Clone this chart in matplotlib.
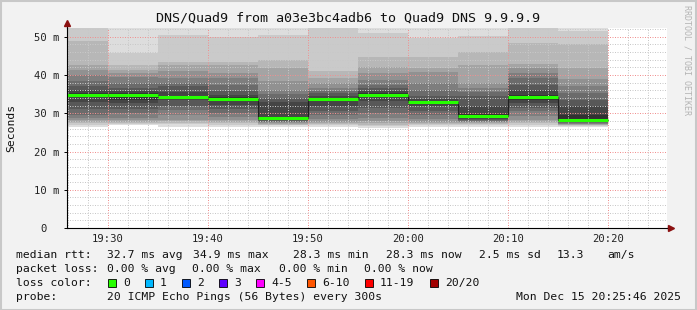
import matplotlib
matplotlib.use('Agg')
import matplotlib.pyplot as plt
from matplotlib.ticker import MultipleLocator, FixedLocator, FixedFormatter
from matplotlib.patches import Rectangle

plt.rcParams['font.family'] = ['DejaVu Sans Mono']

W, H = 697, 310

# each bin is 5 minutes wide, x is minutes after 19:00
bin_end = [30, 35, 40, 45, 50, 55, 60, 65, 70, 75, 80]
median_ms = [34.8, 34.7, 34.3, 33.8, 28.7, 33.6, 34.9, 32.9, 29.4, 34.2, 28.3]

# 20 sorted ping times (ms) per bin
pings_ms = [
    [26.5, 27.0, 27.4, 27.8, 28.3, 28.7, 29.5, 31.0, 33.0, 34.5,
     35.2, 36.0, 37.0, 38.5, 40.0, 41.4, 42.5, 48.8, 53.0, 55.0],
    [26.8, 27.1, 27.4, 27.8, 28.2, 28.7, 30.0, 31.0, 32.6, 33.5,
     35.2, 35.8, 36.5, 37.9, 39.5, 40.5, 41.4, 42.7, 45.7, 55.0],
    [26.5, 27.2, 27.5, 27.9, 28.3, 29.5, 30.9, 32.0, 33.5, 34.0,
     34.6, 35.5, 37.0, 38.0, 39.2, 41.0, 42.7, 43.5, 50.5, 55.0],
    [26.5, 27.0, 27.4, 27.8, 28.3, 29.0, 30.0, 31.0, 32.2, 33.5,
     34.2, 34.8, 35.7, 37.5, 39.2, 40.5, 42.7, 43.5, 50.0, 55.0],
    [26.5, 26.8, 27.0, 27.2, 27.4, 27.6, 27.8, 28.0, 28.2, 28.5,
     29.1, 33.0, 34.0, 35.0, 36.1, 38.5, 41.8, 44.0, 50.5, 55.0],
    [26.5, 26.9, 27.2, 27.5, 27.8, 28.5, 29.5, 30.5, 31.8, 33.3,
     33.9, 34.4, 35.3, 35.8, 36.6, 38.0, 39.2, 41.0, 54.0, 56.0],
    [26.1, 26.6, 27.0, 27.4, 28.0, 28.7, 30.0, 31.5, 33.1, 34.5,
     35.3, 35.8, 36.5, 37.5, 38.7, 40.5, 42.2, 44.8, 51.0, 55.0],
    [26.5, 26.8, 27.1, 27.4, 27.8, 28.5, 29.5, 30.5, 31.8, 32.5,
     33.2, 33.8, 34.4, 36.0, 38.0, 40.9, 41.8, 44.8, 49.7, 55.0],
    [26.5, 26.8, 27.1, 27.4, 27.6, 27.8, 28.0, 28.3, 28.6, 29.0,
     29.8, 31.8, 34.4, 35.5, 36.6, 38.0, 42.7, 46.0, 50.1, 55.0],
    [26.5, 27.0, 27.4, 27.8, 28.3, 29.4, 30.5, 31.5, 32.6, 33.5,
     34.8, 36.0, 37.5, 39.2, 40.5, 41.8, 43.0, 48.3, 53.0, 55.0],
    [26.5, 26.7, 26.9, 27.0, 27.2, 27.3, 27.5, 27.7, 27.9, 28.1,
     29.5, 31.8, 33.5, 35.3, 37.0, 39.0, 41.8, 48.0, 51.4, 55.0],
]

loss_labels = ['0', '1', '2', '3', '4-5', '6-10', '11-19', '20/20']
loss_colors = ['#26ff00', '#00b8ff', '#0059ff', '#5e00ff', '#ff00ff',
               '#ff5500', '#ff0000', '#a10000']
loss_label_x = [123, 160, 197, 234, 271, 322, 380, 445]


def px(x, y):
    return x / W, 1 - y / H


fig = plt.figure(figsize=(W / 100, H / 100), dpi=100, facecolor='#f2f2f2')
ax = fig.add_axes([67 / W, (H - 228) / H, 600 / W, 200 / H])
ax.set_facecolor('white')

# smoke: pair ping i with ping 21-i, darker towards the middle
starts = [e - 5 for e in bin_end]
half = 10
for i in range(1, half + 1):
    shade = int(190 / half * (half - i)) + 50
    col = '#%02x%02x%02x' % (shade, shade, shade)
    lo = [p[i - 1] for p in pings_ms]
    hi = [p[20 - i] for p in pings_ms]
    ax.bar(starts, [h - l for h, l in zip(hi, lo)], bottom=lo, width=5,
           align='edge', color=col, linewidth=0, zorder=1)

# median
ax.stairs(median_ms, [starts[0]] + bin_end, baseline=None,
          color='#202020', lw=0.8, zorder=3)
ax.hlines(median_ms, starts, bin_end, colors=loss_colors[0], lw=2.2, zorder=4)

ax.set_xlim(25.9, 85.9)
ax.set_ylim(0, 200 / 3.825)

ax.xaxis.set_major_locator(FixedLocator([30, 40, 50, 60, 70, 80]))
ax.xaxis.set_major_formatter(FixedFormatter(['19:30', '19:40', '19:50',
                                             '20:00', '20:10', '20:20']))
ax.xaxis.set_minor_locator(MultipleLocator(2))
ax.yaxis.set_major_locator(FixedLocator([0, 10, 20, 30, 40, 50]))
ax.yaxis.set_major_formatter(FixedFormatter(['0  ', '10 m', '20 m', '30 m',
                                             '40 m', '50 m']))
ax.yaxis.set_minor_locator(MultipleLocator(2))

ax.set_axisbelow(False)
ax.grid(which='minor', color='#c8c8c8', lw=0.72, linestyle=(0, (1, 1.5)))
ax.grid(which='major', color='#f09090', lw=0.72, linestyle=(0, (1, 1.5)))

ax.tick_params(which='major', length=2.2, width=0.7, labelsize=7.6,
               colors='#000000', labelcolor='#222222', pad=3)
ax.tick_params(which='minor', length=0)
ax.tick_params(axis='x', which='major', length=0, pad=4)

for s in ['top', 'right']:
    ax.spines[s].set_visible(False)
ax.spines['left'].set_color('#000000')
ax.spines['bottom'].set_color('#000000')
ax.spines['left'].set_linewidth(0.8)
ax.spines['bottom'].set_linewidth(0.8)
ax.spines['left'].set_zorder(5)
ax.spines['bottom'].set_zorder(5)

# axis extensions with arrows
fig.add_artist(plt.Line2D([px(667, 0)[0], px(670, 0)[0]],
                          [px(0, 228)[1], px(0, 228)[1]], color='black', lw=0.8))
fig.add_artist(plt.Line2D([px(67, 0)[0], px(67, 0)[0]],
                          [px(0, 28)[1], px(0, 24)[1]], color='black', lw=0.8))
fig.add_artist(plt.Line2D([px(671, 0)[0]], [px(0, 228)[1]], marker='>',
                          markersize=4, color='#8b1010', lw=0))
fig.add_artist(plt.Line2D([px(67, 0)[0]], [px(0, 23)[1]], marker='^',
                          markersize=4, color='#8b1010', lw=0))

fig.text(*px(348, 18), 'DNS/Quad9 from a03e3bc4adb6 to Quad9 DNS 9.9.9.9',
         ha='center', va='center', fontsize=9.6, color='#111111')
fig.text(*px(11, 128), 'Seconds', rotation=90, ha='center', va='center',
         fontsize=8.2, color='#111111')
fig.text(*px(687, 5), 'RRDTOOL / TOBI OETIKER', rotation=270, ha='center',
         va='top', fontsize=6, color='#b4b4b4')

fs = 8.2
row1 = [(16, 'median rtt:'), (107, '32.7 ms avg'), (193, '34.9 ms max'),
        (293, '28.3 ms min'), (386, '28.3 ms now'), (479, '2.5 ms sd'),
        (557, '13.3'), (607, 'am/s')]
row2 = [(16, 'packet loss:'), (107, '0.00 % avg'), (192, '0.00 % max'),
        (279, '0.00 % min'), (364, '0.00 % now')]
for x, t in row1:
    fig.text(*px(x, 255), t, ha='left', va='center', fontsize=fs, color='#111111')
for x, t in row2:
    fig.text(*px(x, 269), t, ha='left', va='center', fontsize=fs, color='#111111')
fig.text(*px(16, 283), 'loss color:', ha='left', va='center', fontsize=fs,
         color='#111111')
for lx, lab, c in zip(loss_label_x, loss_labels, loss_colors):
    x0, y0 = px(lx - 15, 287)
    fig.add_artist(Rectangle((x0, y0), 8 / W, 8 / H, transform=fig.transFigure,
                             facecolor=c, edgecolor='black', lw=0.6))
    fig.text(*px(lx, 283), lab, ha='left', va='center', fontsize=fs,
             color='#111111')
fig.text(*px(16, 297), 'probe:', ha='left', va='center', fontsize=fs,
         color='#111111')
fig.text(*px(107, 297), '20 ICMP Echo Pings (56 Bytes) every 300s', ha='left',
         va='center', fontsize=fs, color='#111111')
fig.text(*px(681, 297), 'Mon Dec 15 20:25:46 2025', ha='right', va='center',
         fontsize=fs, color='#111111')

# frame around the picture
fig.add_artist(Rectangle((0.5 / W, 0.5 / H), 1 - 1.5 / W, 1 - 1.5 / H,
                         transform=fig.transFigure, fill=False,
                         edgecolor='#c8c8c8', lw=1.5))

fig.savefig('out.png', dpi=100, facecolor=fig.get_facecolor())
